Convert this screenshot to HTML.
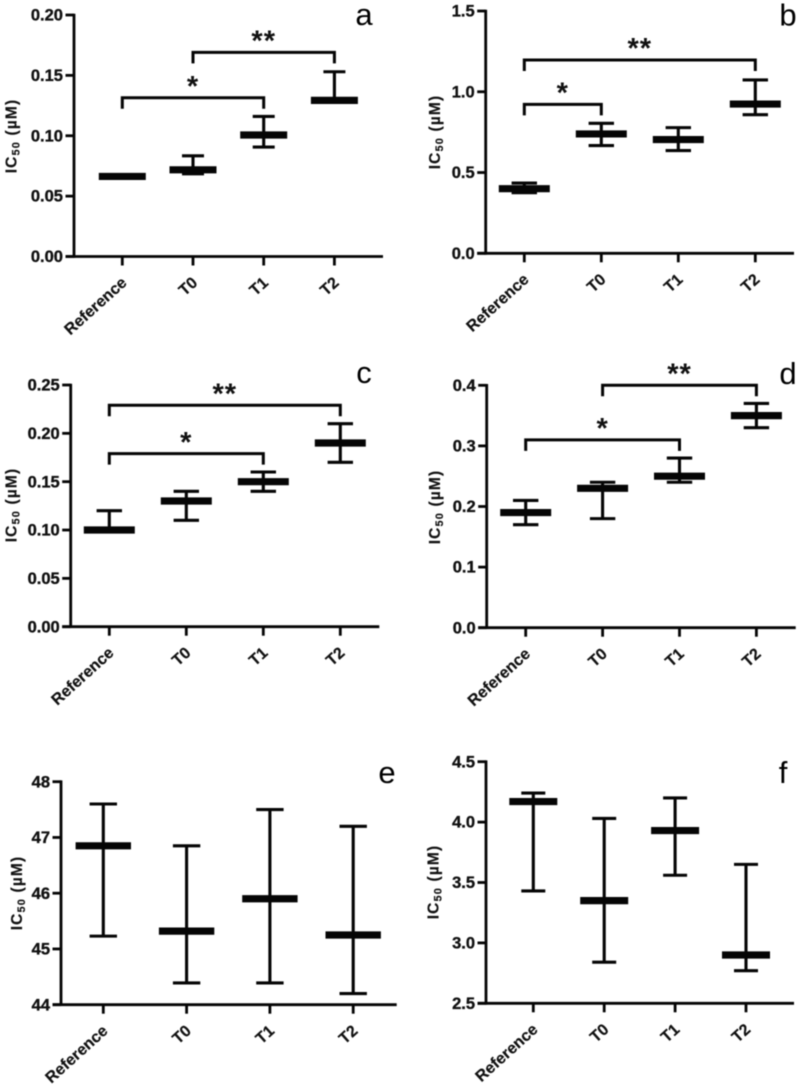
<!DOCTYPE html>
<html>
<head>
<meta charset="utf-8">
<title>IC50 panels</title>
<style>
html,body{margin:0;padding:0;background:#fff;width:797px;height:1086px;overflow:hidden}
svg{display:block;filter:blur(0.4px)}
text{font-family:"Liberation Sans",sans-serif;fill:#111}
.tick{font-weight:700;font-size:16.5px;stroke:#111;stroke-width:.35px}
.cat{font-weight:700;font-size:16px;stroke:#111;stroke-width:.2px}
.ytitle{font-weight:700;font-size:15.5px;letter-spacing:1.15px;stroke:#111;stroke-width:.15px}
.star{font-weight:700;font-size:29px;letter-spacing:1px}
.letter{font-size:31px;fill:#000}
</style>
</head>
<body>
<svg id="figure" xmlns="http://www.w3.org/2000/svg" width="797" height="1086" viewBox="0 0 797 1086"></svg>
<script>
// Shared categories
const categories = ['Reference', 'T0', 'T1', 'T2'];

// Panel a
const aTicks = ['0.00', '0.05', '0.10', '0.15', '0.20'];
const aMeans = [0.0663, 0.0718, 0.1006, 0.1293];
const aHighs = [0.0663, 0.0834, 0.116, 0.153];
const aLows = [0.0663, 0.0685, 0.0906, 0.1293];
const aBrackets = [[0, 2, 0.1315, '*'], [1, 3, 0.169, '**']];

// Panel b
const bTicks = ['0.0', '0.5', '1.0', '1.5'];
const bMeans = [0.40, 0.739, 0.704, 0.924];
const bHighs = [0.435, 0.805, 0.778, 1.073];
const bLows = [0.375, 0.667, 0.636, 0.858];
const bBrackets = [[0, 1, 0.922, '*'], [0, 3, 1.197, '**']];

// Panel c
const cTicks = ['0.00', '0.05', '0.10', '0.15', '0.20', '0.25'];
const cMeans = [0.10, 0.13, 0.15, 0.19];
const cHighs = [0.12, 0.14, 0.16, 0.21];
const cLows = [0.10, 0.11, 0.14, 0.17];
const cBrackets = [[0, 2, 0.179, '*'], [0, 3, 0.229, '**']];

// Panel d
const dTicks = ['0.0', '0.1', '0.2', '0.3', '0.4'];
const dMeans = [0.19, 0.23, 0.25, 0.35];
const dHighs = [0.21, 0.24, 0.28, 0.37];
const dLows = [0.17, 0.18, 0.24, 0.33];
const dBrackets = [[0, 2, 0.31, '*'], [1, 3, 0.40, '**']];

// Panel e
const eTicks = ['44', '45', '46', '47', '48'];
const eMeans = [46.85, 45.32, 45.9, 45.25];
const eHighs = [47.6, 46.85, 47.5, 47.2];
const eLows = [45.23, 44.39, 44.39, 44.2];
const eBrackets = [];

// Panel f
const fTicks = ['2.5', '3.0', '3.5', '4.0', '4.5'];
const fMeans = [4.17, 3.35, 3.93, 2.9];
const fHighs = [4.24, 4.03, 4.2, 3.65];
const fLows = [3.43, 2.84, 3.56, 2.77];
const fBrackets = [];

const svg = document.getElementById('figure');
const NS = 'http://www.w3.org/2000/svg';

function mk(tag, parent, attrs) {
  const el = document.createElementNS(NS, tag);
  for (const k in attrs) el.setAttribute(k, attrs[k]);
  parent.appendChild(el);
  return el;
}
function seg(parent, x1, y1, x2, y2, w) {
  return mk('line', parent, {x1: x1, y1: y1, x2: x2, y2: y2, stroke: '#050505', 'stroke-width': w});
}

function drawPanel(p) {
  const g = mk('g', svg, {});
  
  

  const lo = parseFloat(p.ticks[0]);
  const hi = parseFloat(p.ticks[p.ticks.length - 1]);
  const yScale = function (v) { return p.bottom - (v - lo) / (hi - lo) * (p.bottom - p.top); };
  const xScale = function (i) { return p.x0 + i * p.step; };

  // Axes
  const yAxis = seg(g, p.left, p.top - 1.3, p.left, p.bottom + 1.3, 2.8);
  
  
  const xAxis = seg(g, p.left - 8.5, p.bottom, p.right, p.bottom, 2.8);
  
  

  // Y ticks
  p.ticks.forEach(function (label) {
    const y = yScale(parseFloat(label));
    const tick = seg(g, p.left - 8.5, y, p.left, y, 2.8);
    
    
    const t = mk('text', g, {x: p.left - 11, y: y + 5.6, 'text-anchor': 'end', class: 'tick'});
    t.textContent = label;
    
    
  });

  // X ticks and category labels
  categories.forEach(function (name, i) {
    const x = xScale(i);
    const tick = seg(g, x, p.bottom, x, p.bottom + 9, 2.8);
    
    
    const lx = x + 5.5;
    const ly = p.bottom + 27.5;
    const t = mk('text', g, {x: lx, y: ly, 'text-anchor': 'end', class: 'cat', transform: 'rotate(-42 ' + lx + ' ' + ly + ')'});
    t.textContent = name;
    
    
  });

  // Y axis title
  const title = mk('text', g, {x: 0, y: 0, 'text-anchor': 'middle', class: 'ytitle', transform: 'translate(' + p.titleX + ' ' + p.titleY + ') rotate(-90)'});
  
  
  const t1 = mk('tspan', title, {});
  t1.textContent = 'IC';
  const t2 = mk('tspan', title, {dy: 3, 'font-size': '11px'});
  t2.textContent = '50';
  const t3 = mk('tspan', title, {dy: -3});
  t3.textContent = ' (\u00B5M)';

  // Error bars and means
  categories.forEach(function (name, i) {
    const x = xScale(i);
    const bar = mk('g', g, {});
    
    
    const yHi = yScale(p.highs[i]);
    const yLo = yScale(p.lows[i]);
    const yMean = yScale(p.means[i]);
    seg(bar, x, yHi, x, yLo, 3.1);
    seg(bar, x - p.capW, yHi, x + p.capW, yHi, 3.1);
    seg(bar, x - p.capW, yLo, x + p.capW, yLo, 3.1);
    seg(bar, x - p.meanW, yMean, x + p.meanW, yMean, 7.2);
  });

  // Significance brackets
  p.brackets.forEach(function (b) {
    const x1 = xScale(b[0]);
    const x2 = xScale(b[1]);
    const y = yScale(b[2]);
    const path = mk('path', g, {d: 'M' + x1 + ' ' + (y + 11) + 'V' + y + 'H' + x2 + 'V' + (y + 11), fill: 'none', stroke: '#050505', 'stroke-width': 3});
    
    
    const star = mk('text', g, {x: (x1 + x2) / 2, y: y - 1.8, 'text-anchor': 'middle', class: 'star'});
    star.textContent = b[3];
    
    
  });

  // Panel letter
  const letter = mk('text', g, {x: p.letterX, y: p.letterY, 'text-anchor': 'middle', class: 'letter'});
  letter.textContent = p.id;
  
  
}

drawPanel({id: 'a', ticks: aTicks, means: aMeans, highs: aHighs, lows: aLows, brackets: aBrackets,
  left: 74, right: 383, top: 15, bottom: 256.5, x0: 122.3, step: 70.7, meanW: 23.5, capW: 11,
  titleX: 16.5, titleY: 136, letterX: 364, letterY: 25});
drawPanel({id: 'b', ticks: bTicks, means: bMeans, highs: bHighs, lows: bLows, brackets: bBrackets,
  left: 485.7, right: 794, top: 11, bottom: 253.3, x0: 524.3, step: 77, meanW: 25.5, capW: 12.7,
  titleX: 440, titleY: 132, letterX: 788, letterY: 25.5});
drawPanel({id: 'c', ticks: cTicks, means: cMeans, highs: cHighs, lows: cLows, brackets: cBrackets,
  left: 70.7, right: 379.3, top: 385, bottom: 626.7, x0: 109.3, step: 77, meanW: 25.5, capW: 12.7,
  titleX: 16.5, titleY: 505, letterX: 364, letterY: 383});
drawPanel({id: 'd', ticks: dTicks, means: dMeans, highs: dHighs, lows: dLows, brackets: dBrackets,
  left: 486.7, right: 795.7, top: 385.3, bottom: 627.7, x0: 525.7, step: 76.9, meanW: 25.5, capW: 12.7,
  titleX: 440, titleY: 507, letterX: 788, letterY: 384});
drawPanel({id: 'e', ticks: eTicks, means: eMeans, highs: eHighs, lows: eLows, brackets: eBrackets,
  left: 61, right: 396.7, top: 781.7, bottom: 1004.7, x0: 103.3, step: 83.3, meanW: 27.7, capW: 13.7,
  titleX: 22, titleY: 893, letterX: 387, letterY: 783});
drawPanel({id: 'f', ticks: fTicks, means: fMeans, highs: fHighs, lows: fLows, brackets: fBrackets,
  left: 486, right: 794, top: 761.7, bottom: 1003.3, x0: 533.3, step: 70.9, meanW: 24, capW: 12,
  titleX: 438.5, titleY: 882, letterX: 783, letterY: 783});
</script>
</body>
</html>
